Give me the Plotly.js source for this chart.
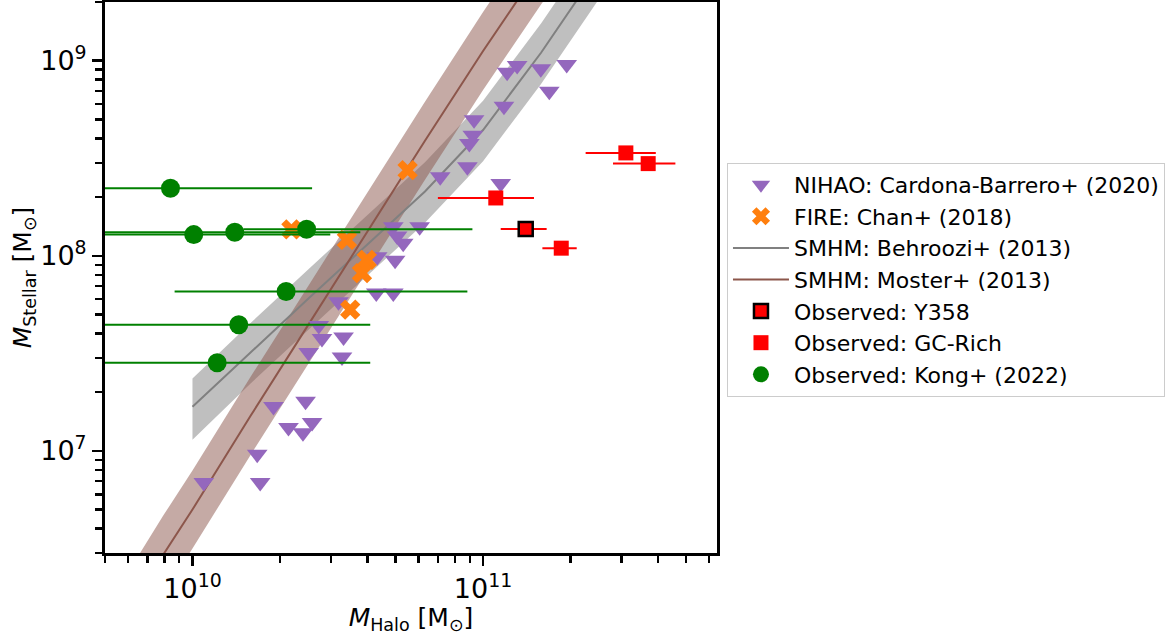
<!DOCTYPE html>
<html>
<head>
<meta charset="utf-8">
<script src="https://cdn.plot.ly/plotly-3.0.1.min.js"></script>
<style>html,body{margin:0;padding:0;background:#fff;}#chart{width:1173px;height:635px;}</style>
</head>
<body>
<div id="chart"></div>
<script>
// NIHAO: Cardona-Barrero+ (2020)
var nihaoHalo = [1.31e11, 1.21e11, 1.58e11, 1.94e11, 1.69e11, 1.18e11, 9.31e10, 9.22e10, 8.97e10, 8.83e10, 7.12e10, 1.15e11,
  4.91e10, 6.05e10, 5.06e10, 5.31e10, 4.32e10, 4.98e10, 4.29e10, 4.91e10, 3.18e10, 2.72e10, 2.79e10, 3.31e10,
  2.51e10, 3.27e10, 1.90e10, 2.45e10, 2.14e10, 2.58e10, 2.40e10, 1.67e10, 1.71e10, 1.094e10];
var nihaoStellar = [9.45e8, 8.73e8, 9.09e8, 9.56e8, 6.98e8, 5.84e8, 4.99e8, 4.15e8, 3.77e8, 2.86e8, 2.54e8, 2.35e8,
  1.41e8, 1.41e8, 1.265e8, 1.16e8, 9.9e7, 9.49e7, 6.45e7, 6.45e7, 5.82e7, 4.39e7, 3.77e7, 3.84e7,
  3.2e7, 3.03e7, 1.69e7, 1.80e7, 1.32e7, 1.40e7, 1.24e7, 9.63e6, 6.9e6, 6.9e6];

// FIRE: Chan+ (2018)
var fireHalo = [2.19e10, 3.40e10, 3.98e10, 3.83e10, 3.49e10, 5.50e10];
var fireStellar = [1.366e8, 1.207e8, 9.54e7, 8.16e7, 5.3e7, 2.75e8];

// SMHM Behroozi+ (2013)
var behHalo = [1e10, 1.585e10, 2.512e10, 3.981e10, 6.31e10, 1e11, 1.585e11, 2.512e11];
var behStellar = [1.687e7, 3.206e7, 6.067e7, 1.138e8, 2.138e8, 4.416e8, 1.102e9, 3.013e9];
var behLow = [1.140e7, 2.218e7, 4.198e7, 7.870e7, 1.479e8, 3.055e8, 7.621e8, 2.084e9];
var behHigh = [2.355e7, 4.529e7, 8.570e7, 1.607e8, 3.020e8, 6.237e8, 1.556e9, 4.256e9];

// SMHM Moster+ (2013)
var mosHalo = [6.31e9, 7.943e9, 1e10, 1.585e10, 2.512e10, 3.981e10, 6.31e10, 1e11, 1.585e11, 2.512e11];
var mosStellar = [1.698e6, 2.951e6, 5.012e6, 1.514e7, 4.467e7, 1.318e8, 3.89e8, 1.122e9, 3.09e9, 7.586e9];
var mosLow = [1.072e6, 1.862e6, 3.162e6, 9.55e6, 2.818e7, 8.318e7, 2.455e8, 7.079e8, 1.950e9, 4.786e9];
var mosHigh = [2.692e6, 4.677e6, 7.943e6, 2.399e7, 7.079e7, 2.089e8, 6.166e8, 1.778e9, 4.898e9, 1.202e10];

// Observed: Y358
var y358Halo = [1.402e11];
var y358Stellar = [1.374e8];
var y358HaloLow = [1.15e11];
var y358HaloHigh = [1.655e11];

// Observed: GC-Rich
var gcHalo = [3.10e11, 3.70e11, 1.106e11, 1.858e11];
var gcStellar = [3.37e8, 2.97e8, 1.98e8, 1.095e8];
var gcHaloLow = [2.254e11, 2.80e11, 6.99e10, 1.60e11];
var gcHaloHigh = [3.93e11, 4.59e11, 1.497e11, 2.10e11];

// Observed: Kong+ (2022)
var kongHalo = [8.40e9, 1.01e10, 1.398e10, 2.47e10, 2.10e10, 1.443e10, 1.216e10];
var kongStellar = [2.22e8, 1.285e8, 1.32e8, 1.369e8, 6.57e7, 4.44e7, 2.83e7];
var kongHaloLow = [3e9, 3e9, 3e9, 1.50e10, 8.68e9, 3e9, 3e9];
var kongHaloHigh = [2.58e10, 2.98e10, 3.78e10, 9.19e10, 8.83e10, 4.09e10, 4.09e10];

// ticks
var xTickVals = [1e10, 1e11];
var xTickText = ['10<sup>10</sup>', '10<sup>11</sup>'];
var xMinorVals = [5e9, 6e9, 7e9, 8e9, 9e9, 2e10, 3e10, 4e10, 5e10, 6e10, 7e10, 8e10, 9e10, 2e11, 3e11, 4e11, 5e11, 6e11];
var yTickVals = [1e7, 1e8, 1e9];
var yTickText = ['10<sup>7</sup>', '10<sup>8</sup>', '10<sup>9</sup>'];
var yMinorVals = [3e6, 4e6, 5e6, 6e6, 7e6, 8e6, 9e6, 2e7, 3e7, 4e7, 5e7, 6e7, 7e7, 8e7, 9e7, 2e8, 3e8, 4e8, 5e8, 6e8, 7e8, 8e8, 9e8, 2e9];

function minus(v, lo) { return v.map(function (x, i) { return x - lo[i]; }); }
function plus(v, hi) { return v.map(function (x, i) { return hi[i] - x; }); }

var FONT = 'DejaVu Sans, sans-serif';

var traces = [
  { x: behHalo, y: behLow, mode: 'lines', line: { width: 0, color: 'rgba(0,0,0,0)' }, showlegend: false, hoverinfo: 'skip' },
  { x: behHalo, y: behHigh, mode: 'lines', fill: 'tonexty', fillcolor: 'rgba(128,128,128,0.5)', line: { width: 0, color: 'rgba(0,0,0,0)' }, showlegend: false, hoverinfo: 'skip' },
  { x: mosHalo, y: mosLow, mode: 'lines', line: { width: 0, color: 'rgba(0,0,0,0)' }, showlegend: false, hoverinfo: 'skip' },
  { x: mosHalo, y: mosHigh, mode: 'lines', fill: 'tonexty', fillcolor: 'rgba(140,86,75,0.5)', line: { width: 0, color: 'rgba(0,0,0,0)' }, showlegend: false, hoverinfo: 'skip' },
  { x: behHalo, y: behStellar, mode: 'lines', name: 'SMHM: Behroozi+ (2013)', line: { color: '#808080', width: 2 }, legendrank: 3 },
  { x: mosHalo, y: mosStellar, mode: 'lines', name: 'SMHM: Moster+ (2013)', line: { color: '#8c564b', width: 2 }, legendrank: 4 },
  { x: nihaoHalo, y: nihaoStellar, mode: 'markers', name: 'NIHAO: Cardona-Barrero+ (2020)', legendrank: 1,
    marker: { symbol: 'triangle-down', size: 18, color: '#9467bd', line: { width: 0 } } },
  { x: fireHalo, y: fireStellar, mode: 'markers', name: 'FIRE: Chan+ (2018)', legendrank: 2,
    marker: { symbol: 'x', size: 18, color: '#ff7f0e', line: { width: 0 } } },
  { x: y358Halo, y: y358Stellar, mode: 'markers', name: 'Observed: Y358', legendrank: 5,
    error_x: { type: 'data', symmetric: false, array: plus(y358Halo, y358HaloHigh), arrayminus: minus(y358Halo, y358HaloLow), color: '#ff0000', thickness: 2, width: 0 },
    marker: { symbol: 'square', size: 14, color: '#ff0000', line: { width: 2.5, color: '#000000' } } },
  { x: gcHalo, y: gcStellar, mode: 'markers', name: 'Observed: GC-Rich', legendrank: 6,
    error_x: { type: 'data', symmetric: false, array: plus(gcHalo, gcHaloHigh), arrayminus: minus(gcHalo, gcHaloLow), color: '#ff0000', thickness: 2, width: 0 },
    marker: { symbol: 'square', size: 15, color: '#ff0000', line: { width: 0 } } },
  { x: kongHalo, y: kongStellar, mode: 'markers', name: 'Observed: Kong+ (2022)', legendrank: 7,
    error_x: { type: 'data', symmetric: false, array: plus(kongHalo, kongHaloHigh), arrayminus: minus(kongHalo, kongHaloLow), color: '#008000', thickness: 2, width: 0 },
    marker: { symbol: 'circle', size: 19, color: '#008000', line: { width: 0 } } }
];

var layout = {
  width: 1173, height: 635,
  margin: { l: 105, r: 456, t: 2, b: 82, pad: 0 },
  paper_bgcolor: '#ffffff', plot_bgcolor: '#ffffff',
  font: { family: FONT, size: 22, color: '#000000' },
  showlegend: true,
  legend: {
    x: 1.0163, y: 0.708, xanchor: 'left', yanchor: 'top',
    traceorder: 'normal',
    bgcolor: 'rgba(255,255,255,0.8)', bordercolor: '#cccccc', borderwidth: 1,
    font: { family: FONT, size: 22, color: '#000000' },
    itemwidth: 56
  },
  xaxis: {
    type: 'log', range: [Math.log10(5e9), 11.805], autorange: false,
    showline: true, linecolor: '#000000', linewidth: 3, mirror: true,
    showgrid: false, zeroline: false,
    tickmode: 'array', tickvals: xTickVals, ticktext: xTickText,
    ticks: 'outside', ticklen: 10, tickwidth: 2.5, tickcolor: '#000000',
    tickfont: { family: FONT, size: 27 },
    minor: { tickmode: 'array', tickvals: xMinorVals, ticks: 'outside', ticklen: 7, tickwidth: 2.5, tickcolor: '#000000', showgrid: false },
    title: { text: '<i>M</i><sub>Halo</sub> [M<sub>⊙</sub>]', font: { family: FONT, size: 25 }, standoff: 2 }
  },
  yaxis: {
    type: 'log', range: [Math.log10(3e6), Math.log10(2e9)], autorange: false,
    showline: true, linecolor: '#000000', linewidth: 3, mirror: true,
    showgrid: false, zeroline: false,
    tickmode: 'array', tickvals: yTickVals, ticktext: yTickText,
    ticks: 'outside', ticklen: 10, tickwidth: 2.5, tickcolor: '#000000',
    tickfont: { family: FONT, size: 27 },
    minor: { tickmode: 'array', tickvals: yMinorVals, ticks: 'outside', ticklen: 7, tickwidth: 2.5, tickcolor: '#000000', showgrid: false },
    title: { text: '<i>M</i><sub>Stellar</sub> [M<sub>⊙</sub>]', font: { family: FONT, size: 25 }, standoff: 2 }
  }
};

Plotly.newPlot('chart', traces, layout, { displayModeBar: false, staticPlot: true });
</script>
</body>
</html>
